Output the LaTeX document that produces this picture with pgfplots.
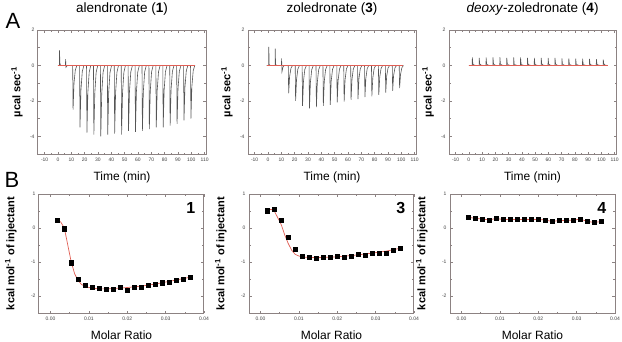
\documentclass[border=0pt]{standalone}
\usepackage{fontspec}
\setmainfont{Liberation Sans}
\usepackage{pgfplots}
\usepackage{pgfplotstable}
\pgfplotsset{compat=1.18}
\definecolor{framec}{RGB}{140,130,130}
\definecolor{peakc}{RGB}{85,85,85}
\definecolor{fitred}{RGB}{225,95,85}

\pgfplotstableread{
x y1 y3 y4
0.00175 0.22 0.51 0.31
0.00357 -0.02 0.55 0.29
0.00539 -1.02 0.22 0.26
0.00721 -1.51 -0.28 0.24
0.00903 -1.69 -0.62 0.28
0.01085 -1.74 -0.82 0.25
0.01267 -1.78 -0.85 0.25
0.01449 -1.79 -0.88 0.25
0.01631 -1.81 -0.86 0.25
0.01813 -1.74 -0.85 0.25
0.01995 -1.82 -0.84 0.25
0.02177 -1.75 -0.85 0.24
0.02359 -1.75 -0.82 0.19
0.02541 -1.69 -0.78 0.22
0.02723 -1.66 -0.79 0.22
0.02905 -1.61 -0.73 0.23
0.03087 -1.59 -0.73 0.26
0.03269 -1.54 -0.73 0.20
0.03451 -1.50 -0.66 0.16
0.03633 -1.44 -0.59 0.19
}\bindata

\pgfplotsset{
 itcbase/.style={
  scale only axis,
  axis line style={framec, line width=1pt},
  tick style={framec, line width=0.6pt},
  major tick length=2.5pt, minor tick length=1.5pt,
  tick align=inside,
  ticklabel style={font=\fontsize{5}{6}\selectfont, text=darkgray},
  /pgf/number format/assume math mode=true,
  minor x tick num=1, minor y tick num=1,
 },
 toprow/.style={itcbase, width=168pt, height=124pt,
  xmin=-15, xmax=111, ymin=-5, ymax=2,
  xtick={-10,0,...,110}, ytick={-4,-2,0,2},
  xlabel={Time (min)}, ylabel={\bfseries µcal sec\textsuperscript{-1}},
  xlabel style={font=\fontsize{12}{13}\selectfont, at={(axis description cs:0.5,-0.185)}, anchor=center},
  ylabel style={font=\fontsize{11}{12}\selectfont, at={(axis description cs:-0.125,0.5)}, anchor=center},
  every axis title shift=0pt,
  title style={font=\fontsize{13.5}{15}\selectfont, at={(axis description cs:0.5,1.09)}, anchor=south},
 },
 botrow/.style={itcbase, width=165pt, height=119pt,
  xmin=-0.003, xmax=0.04, ymin=-2.5, ymax=1,
  xtick={0,0.01,0.02,0.03,0.04}, ytick={-2,-1,0,1},
  scaled x ticks=false,
  xticklabel style={/pgf/number format/.cd, fixed, fixed zerofill, precision=2},
  xlabel={Molar Ratio}, ylabel={\bfseries kcal mol\textsuperscript{-1} of injectant},
  xlabel style={font=\fontsize{12}{13}\selectfont, at={(axis description cs:0.5,-0.185)}, anchor=center},
  ylabel style={font=\fontsize{11}{12}\selectfont, at={(axis description cs:-0.17,0.5)}, anchor=center},
 },
 peaks/.style={peakc, line width=0.6pt, no marks},
 base/.style={fitred, line width=0.7pt, no marks},
 pts/.style={only marks, mark=square*, mark size=2.1pt, black},
 fit/.style={fitred, line width=0.7pt, no marks},
}

\begin{document}
\begin{tikzpicture}
\useasboundingbox (0pt,0pt) rectangle (622pt,341pt);
\node[font=\fontsize{22}{22}\selectfont] at (13pt,320pt) {A};
\node[font=\fontsize{22}{22}\selectfont] at (12pt,161pt) {B};

% ---------- top 1 ----------
\begin{axis}[toprow, at={(38pt,187pt)}, anchor=south west, title={alendronate (\textbf{1})}]
\addplot[peaks] coordinates {
(0,0)(1,0)(1.1,0.85)(1.5,0.05)(2.5,0)(5.6,0)(5.7,0.35)(6.0,-0.1)(7,0)
(11,0)(11.3,-2.5)(12,-1.0)(13,-0.25)(14.2,0)
(16.2,0)(16.5,-3.5)(17.2,-1.4)(18.2,-0.35)(19.4,0)
(21.4,0)(21.7,-3.8)(22.4,-1.52)(23.4,-0.38)(24.6,0)
(26.6,0)(26.9,-3.9)(27.6,-1.56)(28.6,-0.39)(29.8,0)
(31.8,0)(32.1,-4.0)(32.8,-1.6)(33.8,-0.4)(35,0)
(37,0)(37.3,-3.9)(38,-1.56)(39,-0.39)(40.2,0)
(42.2,0)(42.5,-3.85)(43.2,-1.54)(44.2,-0.39)(45.4,0)
(47.4,0)(47.7,-3.9)(48.4,-1.56)(49.4,-0.39)(50.6,0)
(52.6,0)(52.9,-3.7)(53.6,-1.48)(54.6,-0.37)(55.8,0)
(57.8,0)(58.1,-3.75)(58.8,-1.5)(59.8,-0.38)(61,0)
(63,0)(63.3,-3.7)(64,-1.48)(65,-0.37)(66.2,0)
(68.2,0)(68.5,-3.6)(69.2,-1.44)(70.2,-0.36)(71.4,0)
(73.4,0)(73.7,-3.5)(74.4,-1.4)(75.4,-0.35)(76.6,0)
(78.6,0)(78.9,-3.5)(79.6,-1.4)(80.6,-0.35)(81.8,0)
(83.8,0)(84.1,-3.4)(84.8,-1.36)(85.8,-0.34)(87,0)
(89,0)(89.3,-3.3)(90,-1.32)(91,-0.33)(92.2,0)
(94.2,0)(94.5,-3.1)(95.2,-1.24)(96.2,-0.31)(97.4,0)
(99.4,0)(99.7,-3.0)(100.4,-1.2)(101.4,-0.3)(102.6,0)
};
\addplot[base] coordinates {(0,0)(103,0)};
\end{axis}

% ---------- top 2 ----------
\begin{axis}[toprow, at={(248pt,187pt)}, anchor=south west, title={zoledronate (\textbf{3})}]
\addplot[peaks] coordinates {
(-1,0)(0.5,0)(0.6,1.05)(0.9,0.05)(1.8,0)(5.3,0)(5.4,0.95)(5.7,0.05)(6.6,0)(10.1,0)(10.2,0.4)(10.5,-0.35)(11.2,-0.1)(12.2,0)
(15.2,0)(15.5,-1.57)(16.2,-0.63)(17.2,-0.16)(18.4,0)
(20.4,0)(20.7,-2.0)(21.4,-0.8)(22.4,-0.2)(23.6,0)
(25.6,0)(25.9,-2.28)(26.6,-0.91)(27.6,-0.23)(28.8,0)
(30.8,0)(31.1,-2.42)(31.8,-0.97)(32.8,-0.24)(34,0)
(36,0)(36.3,-2.36)(37,-0.94)(38,-0.24)(39.2,0)
(41.2,0)(41.5,-2.28)(42.2,-0.91)(43.2,-0.23)(44.4,0)
(46.4,0)(46.7,-2.23)(47.4,-0.89)(48.4,-0.22)(49.6,0)
(51.6,0)(51.9,-2.09)(52.6,-0.84)(53.6,-0.21)(54.8,0)
(56.8,0)(57.1,-2.04)(57.8,-0.82)(58.8,-0.2)(60,0)
(62,0)(62.3,-1.94)(63,-0.78)(64,-0.19)(65.2,0)
(67.2,0)(67.5,-1.9)(68.2,-0.76)(69.2,-0.19)(70.4,0)
(72.4,0)(72.7,-1.79)(73.4,-0.72)(74.4,-0.18)(75.6,0)
(77.6,0)(77.9,-1.74)(78.6,-0.7)(79.6,-0.17)(80.8,0)
(82.8,0)(83.1,-1.66)(83.8,-0.66)(84.8,-0.17)(86,0)
(88,0)(88.3,-1.53)(89,-0.61)(90,-0.15)(91.2,0)
(93.2,0)(93.5,-1.43)(94.2,-0.57)(95.2,-0.14)(96.4,0)
(98.4,0)(98.7,-1.28)(99.4,-0.51)(100.4,-0.13)(101.6,0)
};
\addplot[base] coordinates {(-1,0)(101.5,0)};
\end{axis}

% ---------- top 3 ----------
\begin{axis}[toprow, at={(449pt,187pt)}, anchor=south west, width=167pt, title={\textit{deoxy}-zoledronate (\textbf{4})}]
\addplot[peaks] coordinates {
(0,0)
(2.5,0)(2.6,0.45)(3.0,0.08)(4.0,0.02)(5.5,0)
(7.7,0)(7.8,0.42)(8.2,0.08)(9.2,0.02)(10.7,0)
(12.9,0)(13.0,0.45)(13.4,0.08)(14.4,0.02)(15.9,0)
(18.1,0)(18.2,0.45)(18.6,0.08)(19.6,0.02)(21.1,0)
(23.3,0)(23.4,0.47)(23.8,0.08)(24.8,0.02)(26.3,0)
(28.5,0)(28.6,0.43)(29.0,0.08)(30.0,0.02)(31.5,0)
(33.7,0)(33.8,0.45)(34.2,0.08)(35.2,0.02)(36.7,0)
(38.9,0)(39.0,0.45)(39.4,0.08)(40.4,0.02)(41.9,0)
(44.1,0)(44.2,0.43)(44.6,0.08)(45.6,0.02)(47.1,0)
(49.3,0)(49.4,0.42)(49.8,0.08)(50.8,0.02)(52.3,0)
(54.5,0)(54.6,0.42)(55.0,0.08)(56.0,0.02)(57.5,0)
(59.7,0)(59.8,0.43)(60.2,0.08)(61.2,0.02)(62.7,0)
(64.9,0)(65.0,0.42)(65.4,0.08)(66.4,0.02)(67.9,0)
(70.1,0)(70.2,0.40)(70.6,0.08)(71.6,0.02)(73.1,0)
(75.3,0)(75.4,0.40)(75.8,0.08)(76.8,0.02)(78.3,0)
(80.5,0)(80.6,0.38)(81.0,0.08)(82.0,0.02)(83.5,0)
(85.7,0)(85.8,0.38)(86.2,0.08)(87.2,0.02)(88.7,0)
(90.9,0)(91.0,0.37)(91.4,0.08)(92.4,0.02)(93.9,0)
(96.1,0)(96.2,0.36)(96.6,0.08)(97.6,0.02)(99.1,0)
(101.3,0)(101.4,0.33)(101.8,0.08)(102.8,0.02)(104.3,0)
};
\addplot[base] coordinates {(0,0)(105,0)};
\end{axis}

% ---------- bottom 1 ----------
\begin{axis}[botrow, at={(39pt,28pt)}, anchor=south west]
\addplot[fit] coordinates {(0.00175,0.25)(0.0027,0.17)(0.0036,0.0)(0.0045,-0.5)(0.0054,-1.0)(0.0063,-1.35)(0.0072,-1.55)(0.0081,-1.66)(0.009,-1.72)(0.0108,-1.77)(0.0127,-1.79)(0.0145,-1.79)(0.0163,-1.78)(0.0181,-1.77)(0.02,-1.75)(0.0236,-1.71)(0.0272,-1.65)(0.0309,-1.57)(0.0345,-1.49)(0.0363,-1.45)};
\addplot[pts] table[x=x, y=y1] {\bindata};
\node[font=\fontsize{16}{16}\selectfont\bfseries] at (axis description cs:0.92,0.88) {1};
\end{axis}

% ---------- bottom 2 ----------
\begin{axis}[botrow, at={(249pt,28pt)}, anchor=south west]
\addplot[fit] coordinates {(0.00175,0.52)(0.0027,0.55)(0.0036,0.5)(0.0045,0.3)(0.0054,0.1)(0.0063,-0.2)(0.0072,-0.45)(0.0081,-0.65)(0.009,-0.77)(0.0099,-0.82)(0.0108,-0.85)(0.0127,-0.87)(0.0145,-0.87)(0.0181,-0.86)(0.0218,-0.83)(0.0254,-0.79)(0.029,-0.74)(0.0327,-0.68)(0.0363,-0.6)};
\addplot[pts] table[x=x, y=y3] {\bindata};
\node[font=\fontsize{16}{16}\selectfont\bfseries] at (axis description cs:0.92,0.88) {3};
\end{axis}

% ---------- bottom 3 ----------
\begin{axis}[botrow, at={(450pt,28pt)}, anchor=south west]
\addplot[fit] table[x=x, y=y4] {\bindata};
\addplot[pts] table[x=x, y=y4] {\bindata};
\node[font=\fontsize{16}{16}\selectfont\bfseries] at (axis description cs:0.92,0.88) {4};
\end{axis}
\end{tikzpicture}
\end{document}
